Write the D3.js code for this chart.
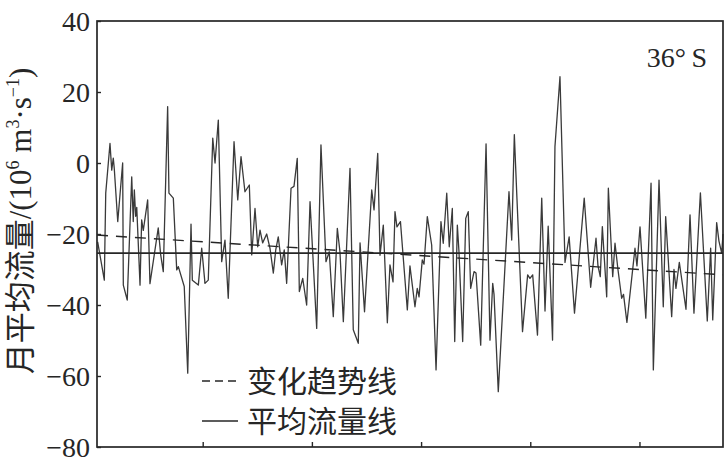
<!DOCTYPE html>
<html><head><meta charset="utf-8">
<script src="https://cdn.jsdelivr.net/npm/d3@7"></script>
<style>
html,body{margin:0;padding:0;background:#fff;}
svg{display:block;}
</style></head>
<body>
<svg id="chart" width="725" height="459"></svg>
<script>
// ---- data ----
const years = [1950.38,1950.99,1951.12,1951.51,1951.67,1951.81,1951.90,1952.22,1952.67,1952.73,1953.09,1953.50,1953.64,1953.74,1953.86,1953.96,1954.26,1954.41,1954.56,1954.96,1955.17,1955.93,1956.15,1956.39,1956.79,1956.91,1957.31,1957.62,1957.77,1958.31,1958.63,1958.93,1959.05,1959.60,1959.91,1960.21,1960.51,1960.92,1961.13,1961.43,1961.74,1962.04,1962.34,1962.87,1963.21,1963.51,1963.87,1964.27,1964.49,1964.79,1965.04,1965.25,1965.49,1965.86,1966.16,1966.47,1966.69,1966.92,1967.23,1967.47,1967.69,1968.09,1968.36,1968.66,1968.85,1969.16,1969.52,1969.83,1970.44,1970.83,1971.29,1971.59,1971.96,1972.33,1972.57,1972.88,1973.49,1973.79,1974.25,1974.41,1974.82,1975.48,1975.69,1976.03,1976.24,1976.54,1976.91,1977.15,1977.43,1977.61,1977.79,1978.11,1978.74,1978.98,1979.44,1979.65,1979.81,1980.11,1980.27,1980.57,1980.97,1981.37,1981.82,1982.03,1982.35,1982.58,1982.86,1983.08,1983.32,1983.47,1983.81,1984.09,1984.32,1984.54,1984.85,1985.03,1985.46,1985.95,1986.31,1986.56,1986.68,1987.07,1988.05,1988.30,1988.54,1988.78,1989.29,1989.76,1989.97,1990.22,1990.66,1991.05,1991.35,1991.64,1992.04,1992.26,1992.72,1993.18,1993.56,1994.05,1994.94,1995.53,1996.02,1996.20,1996.41,1996.60,1997.00,1997.15,1997.55,1997.76,1998.03,1998.37,1998.54,1998.85,1999.59,1999.77,2000.05,2000.58,2001.06,2001.27,2001.79,2002.18,2002.40,2002.95,2003.16,2003.34,2003.65,2004.26,2004.63,2004.99,2005.58,2006.21,2006.52,2006.71,2007.07,2007.28,2007.53,2007.65];
const flow = [-22.2,-33,-8.5,5.5,-2,1.4,-1.5,-16.5,0,-34.4,-38.6,-3.9,-16.5,-7.6,-15,-12.5,-34.4,-16,-19,-10.4,-34,-18.3,-25.8,-30.6,15.9,-8.5,-9.9,-30.1,-29.2,-34.8,-59.2,-17.2,-33,-34.4,-24,-33.9,-33,7,0,12.1,-27.8,-21.7,-38.1,6,-10.4,1.8,-8.1,-6.2,-25.9,-12.8,-23.6,-18.9,-22.5,-20,-24,-31,-24.5,-20.8,-28.7,-24.5,-33.9,-7.1,-6.6,1.3,-36.2,-32.5,-40,-10.9,-46.6,5.1,-27.8,-25,-43.3,-18.4,-25,-44.7,-1.5,-47,-50.8,-22.5,-41.9,-7.6,-13.2,2.7,-26,-17.5,-45,-28.7,-33.5,-13.7,-18,-16.5,-41.4,-29,-40.5,-35.3,-37.7,-27.3,-28.5,-15.1,-23.1,-58.3,-16.5,-22.6,-8.5,-23.6,-12.8,-50.3,-17.5,-25,-50.3,-15.6,-13.7,-35.3,-30.6,-31,-51.3,5.4,-49.9,-33.9,-37,-64.4,-8.1,-21.7,8,-10,-47.5,-31.5,-32.5,-31.5,-48.5,-9.9,-41.7,-17.8,-49.9,4.6,24.3,-28,-20.8,-42.3,-9.9,-35,-21.2,-29,-32,-17.9,-37.7,-7.1,-32,-22.6,-30,-38.1,-37,-44.9,-24,-29,-18,-43.7,-5.7,-58.3,-4.8,-40.5,-15.1,-43.3,-30,-35.3,-28,-41.2,-14.6,-42.3,-8.4,-44.5,-24,-44.2,-16.8,-22,-25.4,-20];
const xDomain = [1950.32, 2007.65];
const xTicks = [1960, 1970, 1980, 1990, 2000];
const yTicks = [40, 20, 0, -20, -40, -60, -80];
const meanFlow = -25.4;
const trendEnds = [-20.3, -31.5];
const legendLabels = ["变化趋势线", "平均流量线"];
const panelLabel = "36°\u2009S";

// ---- layout ----
const svg = d3.select("#chart");
const L = 97, R = 723, T = 21, B = 447;
const ink = "#262626";
const x = d3.scaleLinear().domain(xDomain).range([L, R]);
const y = d3.scaleLinear().domain([-80, 40]).range([B, T]);
const serif = "'Liberation Serif','DejaVu Serif',serif";
const cjk = "'Noto Sans CJK SC','Noto Sans CJK JP',sans-serif";

// data line
const line = d3.line().x((d,i)=>x(years[i])).y(d=>y(d));
svg.append("path").datum(flow).attr("d", line)
  .attr("fill","none").attr("stroke","#3a3a3a").attr("stroke-width",1.3).attr("stroke-linejoin","round");

// mean line
svg.append("line").attr("x1",x(xDomain[0])).attr("x2",x(xDomain[1]))
  .attr("y1",y(meanFlow)).attr("y2",y(meanFlow))
  .attr("stroke",ink).attr("stroke-width",1.7);

// trend line
svg.append("line").attr("x1",x(xDomain[0])).attr("x2",x(xDomain[1]))
  .attr("y1",y(trendEnds[0])).attr("y2",y(trendEnds[1]))
  .attr("stroke",ink).attr("stroke-width",1.4).attr("stroke-dasharray","11,8");

// frame
svg.append("rect").attr("x",L).attr("y",T).attr("width",R-L).attr("height",B-T)
  .attr("fill","none").attr("stroke",ink).attr("stroke-width",1.7);

// y axis (ticks inward)
const yAxis = d3.axisLeft(y).tickValues(yTicks).tickSize(-4).tickPadding(7)
  .tickFormat(d => d < 0 ? "\u2212" + Math.abs(d) : d);
const gy = svg.append("g").attr("transform",`translate(${L},0)`).call(yAxis);
gy.select(".domain").remove();
gy.selectAll(".tick line").attr("stroke",ink).attr("stroke-width",1.4);
gy.selectAll(".tick text").attr("font-family",serif).attr("font-size",28)
  .attr("fill",ink).attr("dy","0.34em");

// x axis (ticks inward, no labels)
const xAxis = d3.axisBottom(x).tickValues(xTicks).tickSize(-5).tickFormat("");
const gx = svg.append("g").attr("transform",`translate(0,${B})`).call(xAxis);
gx.select(".domain").remove();
gx.selectAll(".tick line").attr("stroke",ink).attr("stroke-width",1.4);

// y title
const fs = 31, ss = 18, up = 12;
const yt = svg.append("text").attr("transform","translate(31,221) rotate(-90)")
  .attr("text-anchor","middle").attr("font-size",fs).attr("fill",ink);
yt.append("tspan").attr("font-family",cjk).text("月平均流量");
yt.append("tspan").attr("font-family",serif).text("/(10");
yt.append("tspan").attr("font-family",serif).attr("font-size",ss).attr("dy",-up).text("6");
yt.append("tspan").attr("font-family",serif).attr("dy",up).text(" m");
yt.append("tspan").attr("font-family",serif).attr("font-size",ss).attr("dy",-up).text("3");
yt.append("tspan").attr("font-family",serif).attr("dy",up).text("·s");
yt.append("tspan").attr("font-family",serif).attr("font-size",ss).attr("dy",-up).text("\u22121");
yt.append("tspan").attr("font-family",serif).attr("dy",up).text(")");

// panel label
svg.append("text").attr("x",707).attr("y",67).attr("text-anchor","end")
  .attr("font-family",serif).attr("font-size",28).attr("fill",ink).text(panelLabel);

// legend
const leg = svg.append("g");
const legY = [381, 421];
leg.append("line").attr("x1",202).attr("x2",240).attr("y1",legY[0]).attr("y2",legY[0])
  .attr("stroke",ink).attr("stroke-width",1.4).attr("stroke-dasharray","8,5");
leg.append("line").attr("x1",202).attr("x2",238).attr("y1",legY[1]).attr("y2",legY[1])
  .attr("stroke",ink).attr("stroke-width",1.5);
legendLabels.forEach((t,i)=>{
  leg.append("text").attr("x",247).attr("y",legY[i]).attr("dy","0.36em")
    .attr("font-family",cjk).attr("font-size",30).attr("fill",ink).text(t);
});
</script>
</body></html>
